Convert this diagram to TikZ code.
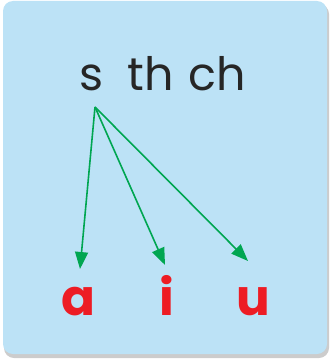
\documentclass[tikz,border=0pt]{standalone}
\usepackage{fontspec}
\setmainfont{Poppins}
\usetikzlibrary{arrows.meta}
\definecolor{cardblue}{RGB}{188,226,246}
\definecolor{linkgreen}{RGB}{0,166,81}
\definecolor{vowelred}{RGB}{237,28,36}
\tikzset{
  link/.style={draw=linkgreen, line width=1.6pt, -{Triangle[length=17pt,width=13pt]}},
  cons/.style={inner sep=0pt, anchor=base, font=\fontsize{46}{46}\selectfont, text=black!85},
  vowel/.style={inner sep=0pt, anchor=base, font=\fontsize{50}{50}\selectfont\bfseries, text=vowelred}
}
\begin{document}
\begin{tikzpicture}[x=1pt, y=-1pt]
    \useasboundingbox (0,0) rectangle (330,361);

    % Card with shadow
    \fill[black!20, rounded corners=10pt] (4,4) rectangle (329,358);
    \fill[cardblue, rounded corners=10pt] (3,1) rectangle (327,354);

    % Consonants
    \node[cons] (s) at (92,90) {s};
    \node[cons] (th) at (151,90) {th};
    \node[cons] (ch) at (217,90) {ch};

    % Vowels
    \node[vowel] (a) at (78,315) {a};
    \node[vowel] (i) at (167,315) {i};
    \node[vowel] (u) at (253,315) {u};

    % Arrows from s
    \coordinate (root) at (95,107);
    \coordinate (tipA) at (80,269);
    \coordinate (tipI) at (165,265);
    \coordinate (tipU) at (248,261);
    \draw[link] (root) -- (tipA);
    \draw[link] (root) -- (tipI);
    \draw[link] (root) -- (tipU);
\end{tikzpicture}
\end{document}
